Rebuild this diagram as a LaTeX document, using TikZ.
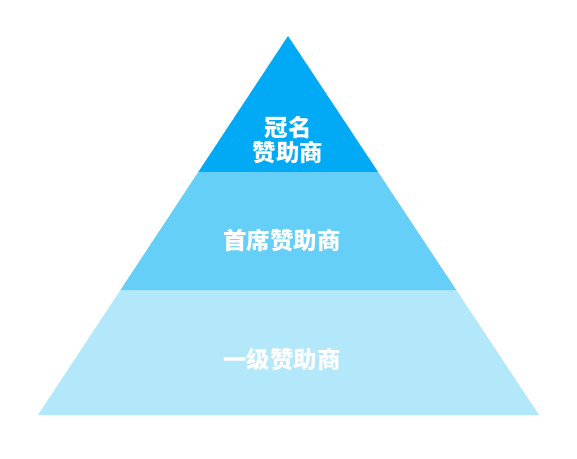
\documentclass[tikz,border=0pt]{standalone}
\usepackage{fontspec}
\newfontfamily\cjk{Noto Sans CJK SC}
\usetikzlibrary{calc}
\definecolor{tiertopblue}{HTML}{02A9F4}
\definecolor{tiermidblue}{HTML}{66CFF7}
\definecolor{tierlowblue}{HTML}{B3E7FA}
\tikzset{tier/.style={draw=none},toptier/.style={tier,fill=tiertopblue},midtier/.style={tier,fill=tiermidblue},lowtier/.style={tier,fill=tierlowblue},tierlabel/.style={text=white,align=center,font=\cjk\bfseries\fontsize{23.5}{25.5}\selectfont,inner sep=0pt}}

\begin{document}
\begin{tikzpicture}[x=1pt,y=-1pt]
\useasboundingbox (0,0) rectangle (577,458);
\coordinate (apex) at (288,36);
\coordinate (baseleft) at (38,415);
\coordinate (baseright) at (539,415);
\coordinate (upleft) at ($(apex)!0.3588!(baseleft)$);
\coordinate (upright) at ($(apex)!0.3588!(baseright)$);
\coordinate (lowleft) at ($(apex)!0.6702!(baseleft)$);
\coordinate (lowright) at ($(apex)!0.6702!(baseright)$);
\fill[lowtier] (lowleft)--(lowright)--(baseright)--(baseleft)--cycle;
\fill[midtier] (upleft)--(upright)--(lowright)--(lowleft)--cycle;
\fill[toptier] (apex)--(upright)--(upleft)--cycle;
\node[tierlabel] (title) at (288,140) {冠名\\赞助商};
\node[tierlabel] (premier) at (282,240) {首席赞助商};
\node[tierlabel] (first) at (282,360) {一级赞助商};
\end{tikzpicture}
\end{document}
